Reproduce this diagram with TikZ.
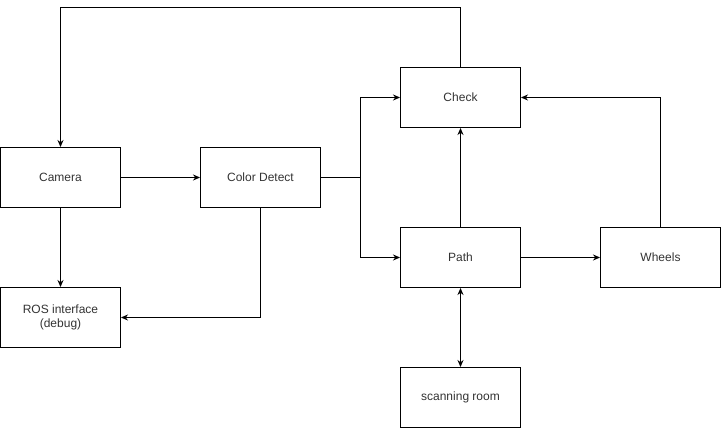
\documentclass[tikz,border=0pt]{standalone}
\usepackage{fontspec}
\setmainfont{Liberation Sans}
\usetikzlibrary{arrows.meta,positioning,calc}

\begin{document}
\begin{tikzpicture}[x=1pt, y=-1pt, >={Stealth[length=7pt,width=6pt]},
  block/.style={draw, line width=1pt, minimum width=120pt, minimum height=60pt,
    inner sep=0pt, align=center, font=\fontsize{12}{14}\selectfont, text=black!80},
  link/.style={->, line width=1pt}]
  % bounding box
  \useasboundingbox (0,0) rectangle (721,428);

  % blocks
  \node[block] (camera) at (60.5,177.5) {Camera};
  \node[block] (color)  at (260.5,177.5) {Color Detect};
  \node[block] (ros)    at (60.5,317.5) {ROS interface\\(debug)};
  \node[block] (check)  at (460.5,97.5) {Check};
  \node[block] (path)   at (460.5,257.5) {Path};
  \node[block] (wheels) at (660.5,257.5) {Wheels};
  \node[block] (scan)   at (460.5,397.5) {scanning room};

  % helper points
  \coordinate (split) at (360.5,177.5);
  \coordinate (top)   at (60.5,7.5);
  \coordinate (rosin) at (260.5,317.5);

  % connectors
  \draw[link] (camera) -- (color);
  \draw[link] (camera) -- (ros);
  \draw[link] (color.south) -- (rosin) -- (ros.east);
  \draw[link] (color.east) -- (split) |- (check.west);
  \draw[link] (split) |- (path.west);
  \draw[link] (path) -- (check);
  \draw[link] (path) -- (wheels);
  \draw[link] (wheels.north) |- (check.east);
  \draw[link] (check.north) |- (top) -- (camera.north);
  \draw[link,<->] (path) -- (scan);
\end{tikzpicture}
\end{document}
